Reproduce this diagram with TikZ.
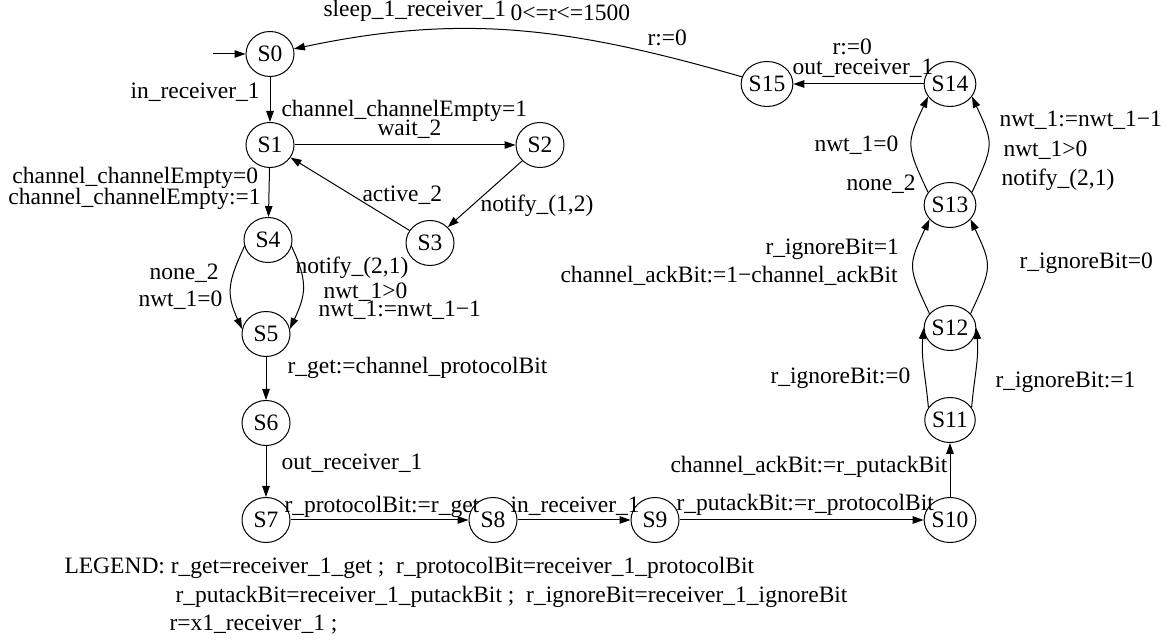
\documentclass[tikz,border=0pt]{standalone}
\usepackage{fontspec}
\setmainfont{Liberation Serif}
\usepackage{tikz}
\usetikzlibrary{arrows.meta, shapes.geometric}

\newcommand{\lblfont}{\fontsize{23.5pt}{28pt}\selectfont}

\begin{document}
\begin{tikzpicture}[x=1pt, y=1pt, line width=1pt,
    state/.style={draw, ellipse, minimum width=48pt, minimum height=45pt, inner sep=0pt, font=\lblfont},
    lbl/.style={anchor=base west, inner sep=0pt, font=\lblfont},
    trans/.style={-{Triangle[length=11pt, width=7.5pt]}}]
    \useasboundingbox (0,0) rectangle (1173,642);

    % States
    \node[state] (S0) at (270,588) {S0};
    \node[state] (S1) at (270,497) {S1};
    \node[state] (S2) at (540,497) {S2};
    \node[state] (S3) at (430,399) {S3};
    \node[state] (S4) at (268,402) {S4};
    \node[state] (S5) at (266,308) {S5};
    \node[state] (S6) at (266,219) {S6};
    \node[state] (S7) at (266,122) {S7};
    \node[state] (S8) at (493,122) {S8};
    \node[state] (S9) at (655,122) {S9};
    \node[state] (S10) at (950,122) {S10};
    \node[state] (S11) at (950,222) {S11};
    \node[state] (S12) at (950,314) {S12};
    \node[state] (S13) at (950,437) {S13};
    \node[state] (S14) at (950,558) {S14};
    \node[state] (S15) at (767,558) {S15};

    % Initial arrow
    \coordinate (init) at (213,588);
    \draw[trans] (init) -- (S0);

    % Transitions
    \draw[trans] (S0) -- (S1);
    \draw[trans] (S1) -- (S2);
    \draw[trans] (S2) -- (S3);
    \draw[trans] (S3) -- (S1);
    \draw[trans] (S1) -- (S4);
    \draw[trans] (S4.195) to[out=245, in=115, looseness=1.2] (S5.168);
    \draw[trans] (S4.-15) to[out=-65, in=65, looseness=1.2] (S5.12);
    \draw[trans] (S5) -- (S6);
    \draw[trans] (S6) -- (S7);
    \draw[trans] (S7) -- (S8);
    \draw[trans] (S8) -- (S9);
    \draw[trans] (S9) -- (S10);
    \draw[trans] (S10) -- (S11);
    \draw[trans] (S11.150) to[out=95, in=265] (S12.180);
    \draw[trans] (S11.30) to[out=85, in=275] (S12.0);
    \draw[trans] (S12.145) to[out=115, in=245, looseness=1.4] (S13.215);
    \draw[trans] (S12.35) to[out=65, in=-65, looseness=1.4] (S13.-35);
    \draw[trans] (S13.150) to[out=115, in=245, looseness=1.4] (S14.210);
    \draw[trans] (S13.30) to[out=65, in=-65, looseness=1.4] (S14.-30);
    \draw[trans] (S14) -- (S15);
    \draw[trans] (S15) to[out=164, in=12] (S0);

    % Labels
    \node[lbl] (tSleep) at (323,625) {sleep\_1\_receiver\_1};
    \node[lbl] (tGuard) at (510,621) {0<=r<=1500};
    \node[lbl] (tReset) at (647,596) {r:=0};
    \node[lbl] (t01) at (130,543) {in\_receiver\_1};
    \node[lbl] (t12a) at (281,525) {channel\_channelEmpty=1};
    \node[lbl] (t12b) at (377,506) {wait\_2};
    \node[lbl] (t14a) at (12,458) {channel\_channelEmpty=0};
    \node[lbl] (t14b) at (8,437) {channel\_channelEmpty:=1};
    \node[lbl] (t31) at (362,440) {active\_2};
    \node[lbl] (t23) at (480,430) {notify\_(1,2)};
    \node[lbl] (t45a) at (149,362) {none\_2};
    \node[lbl] (t45b) at (138,335) {nwt\_1=0};
    \node[lbl] (t45c) at (295,368) {notify\_(2,1)};
    \node[lbl] (t45d) at (323,343) {nwt\_1>0};
    \node[lbl] (t45e) at (318,325) {nwt\_1:=nwt\_1−1};
    \node[lbl] (t56) at (287,268) {r\_get:=channel\_protocolBit};
    \node[lbl] (t67) at (281,172) {out\_receiver\_1};
    \node[lbl] (t78) at (284,129) {r\_protocolBit:=r\_get};
    \node[lbl] (t89) at (510,129) {in\_receiver\_1};
    \node[lbl] (t910) at (676,131) {r\_putackBit:=r\_protocolBit};
    \node[lbl] (t1011) at (670,169) {channel\_ackBit:=r\_putackBit};
    \node[lbl] (t1112a) at (770,258) {r\_ignoreBit:=0};
    \node[lbl] (t1112b) at (995,254) {r\_ignoreBit:=1};
    \node[lbl] (t1213a) at (765,387) {r\_ignoreBit=1};
    \node[lbl] (t1213b) at (560,359) {channel\_ackBit:=1−channel\_ackBit};
    \node[lbl] (t1213c) at (1019,373) {r\_ignoreBit=0};
    \node[lbl] (t1314a) at (814,490) {nwt\_1=0};
    \node[lbl] (t1314b) at (846,451) {none\_2};
    \node[lbl] (t1314c) at (999,515) {nwt\_1:=nwt\_1−1};
    \node[lbl] (t1314d) at (1003,485) {nwt\_1>0};
    \node[lbl] (t1314e) at (1001,456) {notify\_(2,1)};
    \node[lbl] (t1415a) at (832,587) {r:=0};
    \node[lbl] (t1415b) at (792,567) {out\_receiver\_1};

    % Legend
    \node[lbl] (leg1) at (64,68) {LEGEND: r\_get=receiver\_1\_get ;\ \ r\_protocolBit=receiver\_1\_protocolBit};
    \node[lbl] (leg2) at (175,39) {r\_putackBit=receiver\_1\_putackBit ;\ \ r\_ignoreBit=receiver\_1\_ignoreBit};
    \node[lbl] (leg3) at (169,11) {r=x1\_receiver\_1 ;};
\end{tikzpicture}
\end{document}
